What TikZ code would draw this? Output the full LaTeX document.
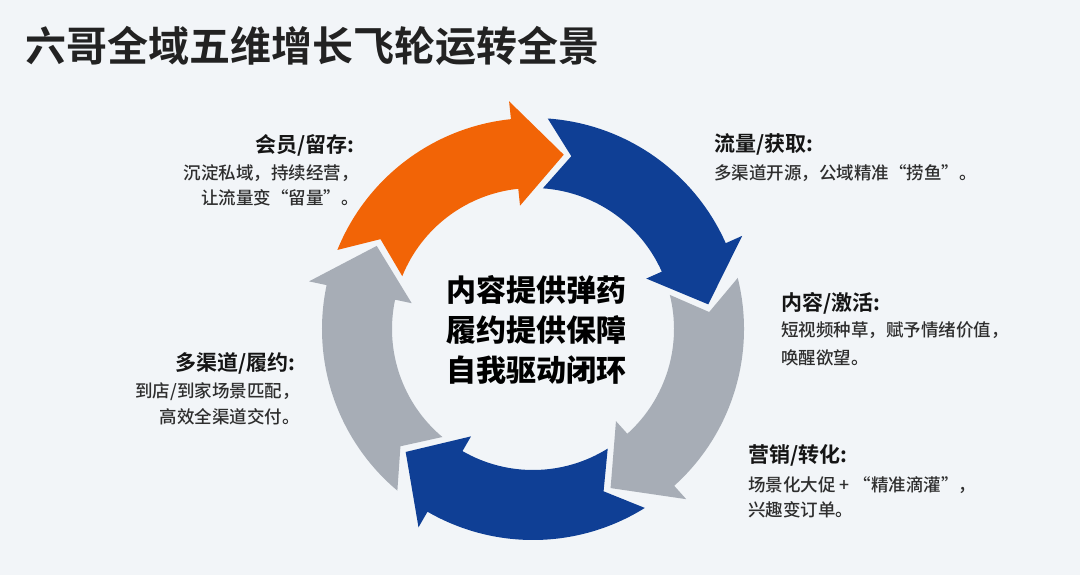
\documentclass[tikz,border=0pt]{standalone}
\usepackage{fontspec}
\newfontfamily\cjk{Noto Sans CJK SC Medium}
\newfontfamily\cjkb{Noto Sans CJK SC Bold}
\newfontfamily\cjkk{Noto Sans CJK SC Black}
\definecolor{bgc}{HTML}{F2F5F8}
\definecolor{orng}{HTML}{F26406}
\definecolor{blu}{HTML}{0F3F95}
\definecolor{gry}{HTML}{A7ADB6}
\definecolor{txtc}{HTML}{2E2E2E}
\definecolor{hdrc}{HTML}{151515}
\definecolor{ttlc}{HTML}{222222}
\begin{document}
\begin{tikzpicture}[x=1pt,y=1pt,
  hdrlbl/.style={inner sep=0pt, font=\cjkb\fontsize{21}{21}\selectfont, text=hdrc},
  bodylbl/.style={inner sep=0pt, font=\cjk\fontsize{17.5}{17.5}\selectfont, text=txtc}]
\useasboundingbox (0,0) rectangle (1080,575);
\fill[bgc] (0,0) rectangle (1080,575);

% title
\node[anchor=base west, inner sep=0pt, font=\cjkb\fontsize{41}{41}\selectfont, text=ttlc] (title) at (25,513) {六哥全域五维增长飞轮运转全景};

% flywheel arrows
\begin{scope}[shift={(533,246)}]
\foreach \p/\c in {80/orng,8/blu,-64/gry,-136/blu,-208/gry}{
  \fill[\c] ({\p+78}:211pt) arc[start angle={\p+78}, end angle={\p+16}, radius=211pt]
    -- ({\p+16}:229pt) -- (\p:177pt) -- ({\p+16}:124pt) -- ({\p+16}:141pt)
    arc[start angle={\p+16}, end angle={\p+78}, radius=141pt]
    -- ({\p+69.5}:177pt) -- cycle;
}
\end{scope}

% centre text
\node[align=center, inner sep=0pt, font=\cjkk\fontsize{30}{40}\selectfont, text=black] (core) at (536,245) {内容提供弹药\\履约提供保障\\自我驱动闭环};

% labels
\node[hdrlbl, anchor=base east] (aH) at (355,422) {会员/留存:};
\node[bodylbl, anchor=base east] (a1) at (359,395.5) {沉淀私域，持续经营，};
\node[bodylbl, anchor=base east] (a2) at (359,370) {让流量变“留量”。};

\node[hdrlbl, anchor=base west] (bH) at (714,423) {流量/获取:};
\node[bodylbl, anchor=base west] (b1) at (714,395.3) {多渠道开源，公域精准“捞鱼”。};

\node[hdrlbl, anchor=base west] (cH) at (781,264.5) {内容/激活:};
\node[bodylbl, anchor=base west] (c1) at (781,238) {短视频种草，赋予情绪价值，};
\node[bodylbl, anchor=base west] (c2) at (781,210) {唤醒欲望。};

\node[hdrlbl, anchor=base west] (dH) at (748,112) {营销/转化:};
\node[bodylbl, anchor=base west] (d1) at (748,83) {场景化大促 + “精准滴灌”，};
\node[bodylbl, anchor=base west] (d2) at (748,58.5) {兴趣变订单。};

\node[hdrlbl, anchor=base east] (eH) at (296,204) {多渠道/履约:};
\node[bodylbl, anchor=base east] (e1) at (300,177) {到店/到家场景匹配，};
\node[bodylbl, anchor=base east] (e2) at (300,151) {高效全渠道交付。};
\end{tikzpicture}
\end{document}
